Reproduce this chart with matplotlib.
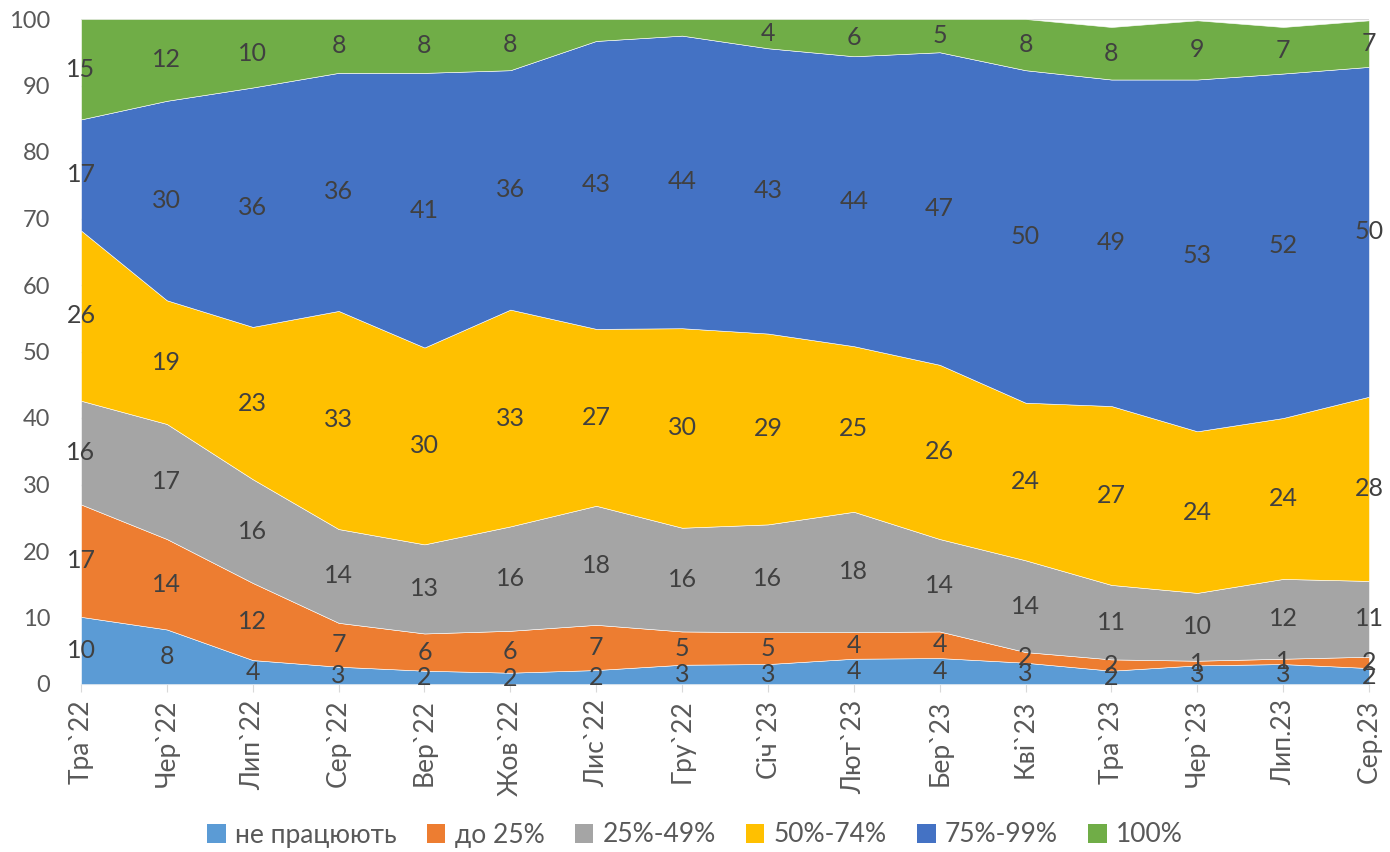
import matplotlib
matplotlib.use("Agg")
import matplotlib.pyplot as plt
from matplotlib.patches import Patch
import numpy as np

plt.rcParams['font.family'] = ['Lato', 'DejaVu Sans']

months = ['Тра`22', 'Чер`22', 'Лип`22', 'Сер`22', 'Вер`22', 'Жов`22', 'Лис`22', 'Гру`22',
          'Січ`23', 'Лют`23', 'Бер`23', 'Кві`23', 'Тра`23', 'Чер`23', 'Лип.23', 'Сер.23']

series_names = ['не працюють', 'до 25%', '25%-49%', '50%-74%', '75%-99%', '100%']

not_working = [10.1, 8.2, 3.6, 2.6, 2.0, 1.7, 2.1, 2.9, 3.0, 3.8, 3.9, 3.2, 2.0, 2.8, 3.0, 2.4]
up_to_25 = [16.9, 13.6, 11.6, 6.6, 5.6, 6.3, 6.8, 5.0, 4.8, 4.0, 4.0, 1.6, 1.7, 0.7, 0.8, 1.7]
p25_49 = [15.6, 17.3, 15.6, 14.1, 13.4, 15.7, 17.9, 15.6, 16.2, 18.1, 13.9, 13.8, 11.2, 10.2, 12.0, 11.4]
p50_74 = [25.6, 18.6, 22.9, 32.8, 29.6, 32.6, 26.6, 30.0, 28.7, 24.9, 26.2, 23.7, 26.9, 24.3, 24.2, 27.7]
p75_99 = [16.7, 30.0, 36.0, 35.8, 41.3, 36.0, 43.3, 44.0, 42.9, 43.6, 47.0, 50.0, 49.1, 52.9, 51.8, 49.6]
p100 = [15.1, 12.3, 10.3, 8.1, 8.1, 7.7, 3.3, 2.5, 4.4, 5.6, 5.0, 7.7, 7.9, 8.9, 7.0, 7.0]

# data labels not shown in the original (series index, month index)
hidden_labels = {(5, 6), (5, 7)}

colors = ['#5B9BD5', '#ED7D31', '#A5A5A5', '#FFC000', '#4472C4', '#70AD47']

data = np.array([not_working, up_to_25, p25_49, p50_74, p75_99, p100])
x = np.arange(len(months))

fig = plt.figure(figsize=(13.9, 8.52), dpi=100)
ax = fig.add_axes([81/1390, 1 - 684/852, (1369 - 81)/1390, (684 - 19)/852])

ax.set_ylim(0, 100)
ax.set_xlim(0, len(months) - 1)
ax.set_yticks(np.arange(0, 101, 10))
ax.grid(axis='y', color='#D9D9D9', linewidth=1)
ax.set_axisbelow(True)

ax.stackplot(x, data, colors=colors, edgecolor='#FFFFFF', linewidth=0.4, zorder=2)

bottoms = np.zeros(len(months))
for si in range(data.shape[0]):
    for mi in range(len(months)):
        v = data[si, mi]
        if (si, mi) not in hidden_labels:
            ax.text(x[mi], bottoms[mi] + v / 2, f"{int(round(v))}", ha='center', va='center',
                    fontsize=18, color='#404040', zorder=5, clip_on=False)
    bottoms = bottoms + data[si]

for s in ['left', 'right', 'top']:
    ax.spines[s].set_visible(False)
ax.spines['bottom'].set_color('#D9D9D9')
ax.spines['bottom'].set_zorder(1)

ax.set_xticks(x)
ax.set_xticklabels(months, rotation=90, fontsize=19, color='#595959')
ax.tick_params(axis='x', length=6, color='#D9D9D9', pad=5)
ax.tick_params(axis='y', length=0, labelsize=17, labelcolor='#595959', pad=22)

handles = [Patch(facecolor=c, edgecolor='none') for c in colors]
fig.legend(handles, series_names, loc='center', bbox_to_anchor=(0.5, 1 - 835/852), ncol=6,
           frameon=False, fontsize=19, labelcolor='#595959', handlelength=0.7, handleheight=0.7,
           handletextpad=0.35, columnspacing=1.15)

fig.savefig('out.png', dpi=100)
